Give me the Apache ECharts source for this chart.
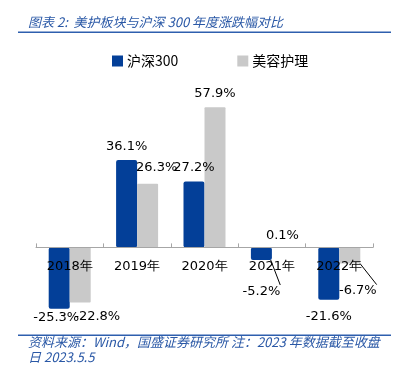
<!DOCTYPE html>
<html>
<head>
<meta charset="utf-8">
<script src="https://cdn.jsdelivr.net/npm/echarts@6/dist/echarts.min.js"></script>
<style>html,body{margin:0;padding:0;background:#fff;}#c{width:397px;height:370px;}</style>
</head>
<body>
<div id="c"></div>
<script>
const categories = ['2018年', '2019年', '2020年', '2021年', '2022年'];
const hs300 = [-25.3, 36.1, 27.2, -5.2, -21.6];
const beauty = [-22.8, 26.3, 57.9, 0.1, -6.7];
const seriesNames = ['沪深300', '美容护理'];

// label nudges (dx, dy) per item, styling only
const hsShift = [[-3, -4], [0, -1], [0, -1], [0, 19], [0, 4]];
const beShift = [[17, 2], [9, -4], [0, -1], [0, 1], [8, 15]];
const leader = [false, false, false, true, false];
const leader2 = [false, false, false, false, true];

const BLUE = '#033f98';
const GREY = '#c9c9c9';
const TEXT_BLUE = '#2a58a6';
const valFont = 'DejaVu Sans, sans-serif';

const Y_MIN = -30, Y_MAX = 70, GRID_TOP = 78, GRID_BOTTOM = 50;
const plotH = 370 - GRID_TOP - GRID_BOTTOM;
const zeroToBottom = plotH * (0 - Y_MIN) / (Y_MAX - Y_MIN);

function mkData(vals, shifts, leaders) {
  return vals.map((v, i) => ({
    value: v,
    label: {
      position: v >= 0 ? 'top' : 'bottom',
      offset: shifts[i]
    },
    labelLine: { show: leaders[i], lineStyle: { color: '#000', width: 1 } }
  }));
}

const chart = echarts.init(document.getElementById('c'));
chart.setOption({
  animation: false,
  backgroundColor: '#fff',
  title: {
    text: '图表 2:  美护板块与沪深 300 年度涨跌幅对比',
    left: 23, top: 11,
    textStyle: { color: TEXT_BLUE, fontSize: 13, fontStyle: 'italic', fontWeight: 'normal', fontFamily: 'Noto Sans CJK SC' }
  },
  legend: {
    left: 112, top: 54, padding: 0,
    itemWidth: 11, itemHeight: 11, itemGap: 59,
    icon: 'rect',
    textStyle: { color: '#000', fontSize: 14, fontFamily: 'Noto Sans CJK SC', padding: [0, 0, 0, -1] },
    data: seriesNames
  },
  grid: { left: 36, right: 24, top: GRID_TOP, bottom: GRID_BOTTOM },
  xAxis: {
    type: 'category',
    data: categories,
    axisLine: { onZero: true, lineStyle: { color: '#a6a6a6', width: 1 } },
    axisTick: { show: true, inside: true, length: 4, alignWithLabel: false, lineStyle: { color: '#a6a6a6' } },
    axisLabel: { color: '#000', fontSize: 13, fontFamily: valFont, margin: 13 - zeroToBottom },
    z: 10
  },
  yAxis: {
    type: 'value', min: Y_MIN, max: Y_MAX, interval: 10,
    axisLine: { show: false }, axisTick: { show: false }, axisLabel: { show: false },
    splitLine: { show: false }
  },
  graphic: [
    { type: 'rect', shape: { x: 18, y: 31.5, width: 373, height: 1.6 }, style: { fill: '#2e5fae' } },
    { type: 'rect', shape: { x: 18, y: 334.5, width: 373, height: 1.6 }, style: { fill: '#2e5fae' } },
    { type: 'text', left: 28, top: 336, style: { text: '资料来源：Wind，国盛证券研究所 注：2023 年数据截至收盘', fill: TEXT_BLUE, font: 'italic 13px "Noto Sans CJK SC"' } },
    { type: 'text', left: 28, top: 351, style: { text: '日 2023.5.5', fill: TEXT_BLUE, font: 'italic 13px "Noto Sans CJK SC"' } }
  ],
  series: [
    {
      name: seriesNames[0], type: 'bar', barWidth: 21, barGap: '0%',
      itemStyle: { color: BLUE, borderRadius: 2 },
      label: { show: true, distance: 6, color: '#000', fontSize: 13, fontFamily: valFont, formatter: p => p.value.toFixed(1) + '%' },
      data: mkData(hs300, hsShift, leader)
    },
    {
      name: seriesNames[1], type: 'bar', barWidth: 21,
      itemStyle: { color: GREY, borderRadius: 1 },
      label: { show: true, distance: 6, color: '#000', fontSize: 13, fontFamily: valFont, formatter: p => p.value.toFixed(1) + '%' },
      data: mkData(beauty, beShift, leader2)
    }
  ]
});
</script>
</body>
</html>
